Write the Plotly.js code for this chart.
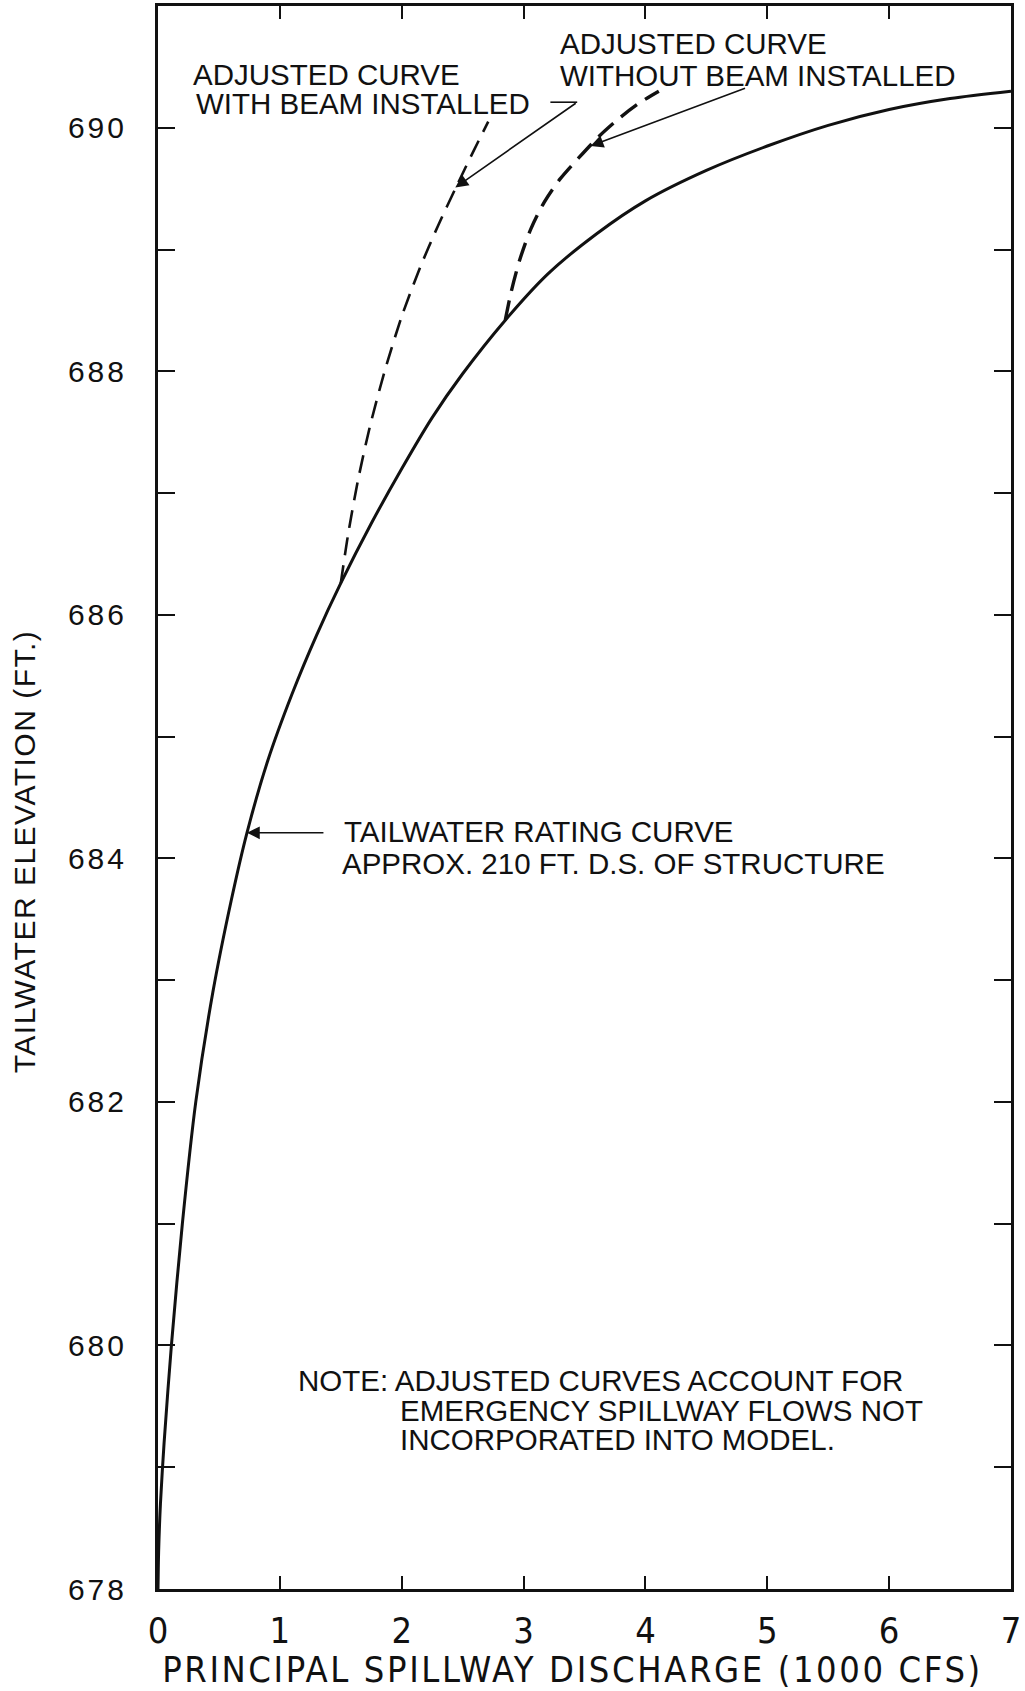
<!DOCTYPE html>
<html>
<head>
<meta charset="utf-8">
<script src="https://cdn.plot.ly/plotly-3.0.1.min.js"></script>
<style>
  html, body { margin: 0; padding: 0; background: #fff; }
  #chart { width: 1025px; height: 1691px; }
  .ytick text { letter-spacing: 3px; }
  .g-xtitle text { letter-spacing: 2.6px; }
  .g-xtitle { transform: translate(-12px, -7px); }
  .g-ytitle text { letter-spacing: 1.5px; }
  .g-ytitle { transform: translate(-4px, 54px); }
</style>
</head>
<body>
<div id="chart"></div>
<script>
// Tailwater rating curve (solid)
const ratingX = [0, 0.005, 0.02, 0.05, 0.11, 0.2, 0.31, 0.45, 0.6, 0.73, 0.9, 1.1, 1.3, 1.5, 1.75, 2.0, 2.25, 2.5, 2.85, 3.2, 3.6, 4.0, 4.5, 5.0, 5.5, 6.0, 6.5, 7.0];
const ratingY = [678.0, 678.3, 678.7, 679.2, 680.0, 681.0, 682.0, 682.9, 683.65, 684.21, 684.8, 685.35, 685.83, 686.26, 686.75, 687.2, 687.62, 687.98, 688.42, 688.8, 689.13, 689.40, 689.65, 689.85, 690.02, 690.15, 690.24, 690.30];
// Adjusted curve with beam installed (dashed)
const withBeamX = [1.50, 1.56, 1.64, 1.74, 1.86, 2.00, 2.15, 2.30, 2.45, 2.58, 2.71];
const withBeamY = [686.26, 686.66, 687.10, 687.55, 688.00, 688.45, 688.85, 689.20, 689.52, 689.79, 690.05];
// Adjusted curve without beam installed (dashed)
const withoutBeamX = [2.85, 2.90, 2.97, 3.06, 3.17, 3.30, 3.45, 3.62, 3.80, 3.96, 4.11];
const withoutBeamY = [688.42, 688.66, 688.92, 689.17, 689.39, 689.58, 689.75, 689.93, 690.09, 690.21, 690.30];

// Axis ticks
const xTickVals = [0, 1, 2, 3, 4, 5, 6, 7];
const xTickText = ['0', '1', '2', '3', '4', '5', '6', '7'];
const yTickVals = [678, 679, 680, 681, 682, 683, 684, 685, 686, 687, 688, 689, 690];
const yTickText = ['678', '', '680', '', '682', '', '684', '', '686', '', '688', '', '690'];

// Texts
const labelWithBeam = ['ADJUSTED CURVE', 'WITH BEAM INSTALLED'];
const labelWithoutBeam = ['ADJUSTED CURVE', 'WITHOUT BEAM INSTALLED'];
const labelRating = ['TAILWATER RATING CURVE', 'APPROX. 210 FT. D.S. OF STRUCTURE'];
const noteLines = ['NOTE: ADJUSTED CURVES ACCOUNT FOR', 'EMERGENCY SPILLWAY FLOWS NOT', 'INCORPORATED INTO MODEL.'];
const xTitle = 'PRINCIPAL SPILLWAY DISCHARGE (1000 CFS)';
const yTitle = 'TAILWATER ELEVATION (FT.)';

const INK = '#111111';
const textFont = {family: '"Liberation Sans", Arial, sans-serif', size: 29.5, color: INK};
const narrowFont = '"Liberation Sans Narrow", "DejaVu Sans Condensed", "Liberation Sans", sans-serif';

const traces = [
  {x: ratingX, y: ratingY, type: 'scatter', mode: 'lines', name: 'Tailwater rating curve',
   line: {color: INK, width: 3, shape: 'spline', smoothing: 0.8}},
  {x: withBeamX, y: withBeamY, type: 'scatter', mode: 'lines', name: 'Adjusted curve with beam installed',
   line: {color: INK, width: 2.6, dash: '18px,10px', shape: 'spline', smoothing: 0.8}},
  {x: withoutBeamX, y: withoutBeamY, type: 'scatter', mode: 'lines', name: 'Adjusted curve without beam installed',
   line: {color: INK, width: 3.4, dash: '20px,10px', shape: 'spline', smoothing: 0.8}}
];

function txt(text, x, y) {
  return {text: text, x: x, y: y, xref: 'x', yref: 'y', xanchor: 'left', yanchor: 'middle',
          showarrow: false, font: textFont, borderpad: 0};
}
function arrow(x, y, ax, ay) {
  return {text: '', x: x, y: y, ax: ax, ay: ay, xref: 'x', yref: 'y', axref: 'x', ayref: 'y',
          showarrow: true, arrowhead: 2, arrowsize: 1.6, arrowwidth: 1.6, arrowcolor: INK};
}

const annotations = [
  txt(labelWithBeam[0], 0.283, 690.44),
  txt(labelWithBeam[1], 0.30, 690.20),
  txt(labelWithoutBeam[0], 3.29, 690.69),
  txt(labelWithoutBeam[1], 3.29, 690.43),
  txt(labelRating[0], 1.52, 684.22),
  txt(labelRating[1], 1.505, 683.96),
  txt(noteLines[0], 1.14, 679.71),
  txt(noteLines[1], 1.98, 679.47),
  txt(noteLines[2], 1.98, 679.23),
  arrow(2.44, 689.51, 3.44, 690.21),
  arrow(3.55, 689.85, 4.83, 690.33),
  arrow(0.73, 684.21, 1.37, 684.21)
];

const shapes = [
  {type: 'line', xref: 'x', yref: 'y', x0: 3.22, x1: 3.44, y0: 690.21, y1: 690.21,
   line: {color: INK, width: 1.6}}
];

const layout = {
  width: 1025, height: 1691,
  margin: {l: 158, r: 14, t: 6, b: 102, pad: 0},
  paper_bgcolor: '#ffffff', plot_bgcolor: '#ffffff',
  showlegend: false,
  xaxis: {
    range: [0, 7], tickvals: xTickVals, ticktext: xTickText,
    ticks: 'inside', ticklen: 13, tickwidth: 2, tickcolor: INK,
    showline: true, linecolor: INK, linewidth: 3, mirror: 'ticks',
    showgrid: false, zeroline: false,
    tickfont: {family: narrowFont, size: 36, color: INK},
    ticklabelstandoff: 8,
    title: {text: xTitle, font: {family: narrowFont, size: 36, color: INK}, standoff: 14}
  },
  yaxis: {
    range: [678, 691], tickvals: yTickVals, ticktext: yTickText,
    ticks: 'inside', ticklen: 17, tickwidth: 2, tickcolor: INK,
    showline: true, linecolor: INK, linewidth: 3, mirror: 'ticks',
    showgrid: false, zeroline: false,
    tickfont: {family: '"Liberation Sans", Arial, sans-serif', size: 30, color: INK},
    ticklabelstandoff: 22,
    title: {text: yTitle, font: {family: '"Liberation Sans", Arial, sans-serif', size: 30, color: INK}, standoff: 20}
  },
  annotations: annotations,
  shapes: shapes
};

Plotly.newPlot('chart', traces, layout, {staticPlot: true, displayModeBar: false});
</script>
</body>
</html>
